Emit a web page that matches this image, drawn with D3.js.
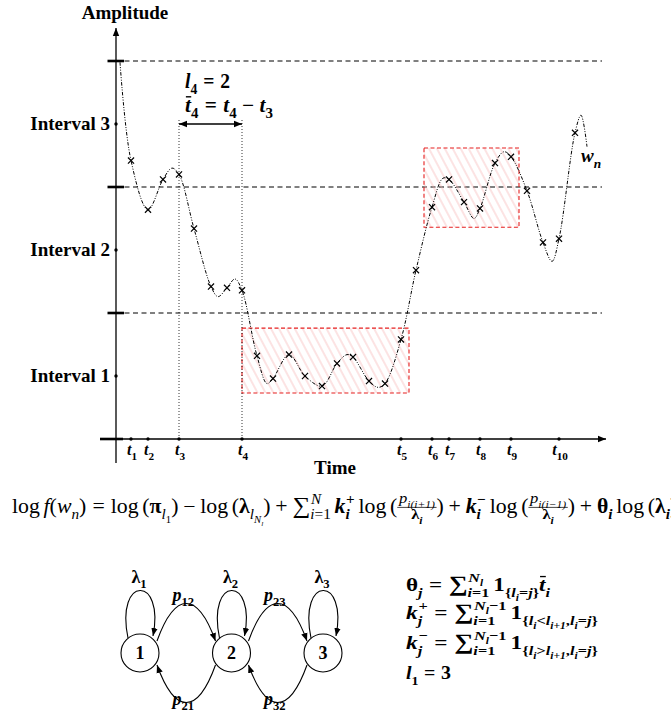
<!DOCTYPE html>
<html>
<head>
<meta charset="utf-8">
<script src="https://cdn.jsdelivr.net/npm/d3@7"></script>
<style>
  body { margin: 0; background: #fff; }
  svg { display: block; }
</style>
</head>
<body>
<svg id="fig"></svg>
<script>
const W = 671, H = 716;
const serif = "'Liberation Serif', 'DejaVu Serif', serif";

// amplitude intervals
const intervalNames = ["Interval 1", "Interval 2", "Interval 3"];
const intervalCenters = [1, 2, 3];
const boundaries = [1.5, 2.5, 3.5];

// observation times t1..t10
const tickNames = ["1", "2", "3", "4", "5", "6", "7", "8", "9", "10"];
const tickTimes = [3.0, 6.4, 12.6, 25.2, 57.0, 63.2, 66.6, 72.8, 79.0, 88.6];

// the continuous trajectory w_n (knots)
const waveT = [0.8, 3.0, 6.4, 9.4, 11.2, 12.6, 15.6, 19.0, 20.4, 22.2, 23.8, 25.2, 28.2, 30.2, 31.4, 34.6,
  37.8, 41.2, 44.2, 46.2, 47.4, 50.6, 52.4, 53.8, 57.0, 60.0, 63.2, 65.4, 66.6, 69.6, 71.6, 72.8, 75.8,
  77.6, 79.0, 82.2, 85.4, 87.2, 88.6, 91.8, 93.0, 94.2];
const waveA = [3.49, 2.71, 2.32, 2.56, 2.65, 2.60, 2.17, 1.71, 1.63, 1.70, 1.77, 1.68, 1.16, 0.94, 0.98, 1.17,
  1.00, 0.92, 1.10, 1.17, 1.15, 0.96, 0.91, 0.94, 1.29, 1.84, 2.34, 2.57, 2.56, 2.38, 2.25, 2.33, 2.69,
  2.78, 2.74, 2.47, 2.06, 1.91, 2.09, 2.93, 3.07, 2.82];

// sampled points (x marks)
const sampleT = [3.0, 6.4, 9.4, 12.6, 15.6, 19.0, 22.2, 25.2, 28.2, 31.4, 34.6, 37.8, 41.2, 44.2, 47.4,
  50.6, 53.8, 57.0, 60.0, 63.2, 66.6, 69.6, 72.8, 75.8, 79.0, 82.2, 85.4, 88.6, 91.8];
const sampleA = [2.71, 2.32, 2.56, 2.60, 2.17, 1.71, 1.70, 1.68, 1.16, 0.98, 1.17, 1.00, 0.92, 1.10, 1.15,
  0.96, 0.94, 1.29, 1.84, 2.34, 2.56, 2.38, 2.33, 2.69, 2.74, 2.47, 2.06, 2.09, 2.93];

// hatched sojourn boxes
const boxT0 = [25.2, 61.6];
const boxT1 = [58.6, 80.6];
const boxA0 = [0.865, 2.18];
const boxA1 = [1.38, 2.81];

// markov chain
const states = ["1", "2", "3"];
const forward = [["12", 0, 1], ["23", 1, 2]];
const backward = [["21", 1, 0], ["32", 2, 1]];

const svg = d3.select("#fig").attr("width", W).attr("height", H);
const defs = svg.append("defs");

defs.append("marker")
    .attr("id", "arr")
    .attr("viewBox", "0 -4 8 8")
    .attr("refX", 8).attr("refY", 0)
    .attr("markerWidth", 8).attr("markerHeight", 8)
    .attr("markerUnits", "userSpaceOnUse")
    .attr("orient", "auto-start-reverse")
  .append("path")
    .attr("d", "M0,-3.2L8,0L0,3.2Z")
    .attr("fill", "#000");

const hatch = defs.append("pattern")
    .attr("id", "hatch")
    .attr("patternUnits", "userSpaceOnUse")
    .attr("width", 7).attr("height", 7)
    .attr("patternTransform", "rotate(-28)");
hatch.append("line")
    .attr("x1", 1).attr("y1", 0).attr("x2", 1).attr("y2", 7)
    .attr("stroke", "#f7b4b4").attr("stroke-width", 0.75);

// ---- little math typesetter (text pieces measured one after another)
const T = (s, k = "n", o = {}) => ({ s, k, ...o });
const SP = e => ({ sp: e });

function put(g, x, y, toks, size) {
  let cx = x;
  toks.forEach(tk => {
    if (tk.sp !== undefined) { cx += tk.sp * size; return; }
    if (tk.frac) {
      const s2 = size * 0.76;
      const gn = g.append("g"), gd = g.append("g");
      const wn = put(gn, 0, 0, tk.frac.num, s2);
      const wd = put(gd, 0, 0, tk.frac.den, s2);
      const w = Math.max(wn, wd) + size * 0.15;
      gn.attr("transform", `translate(${cx + (w - wn) / 2},${y - size * 0.5})`);
      gd.attr("transform", `translate(${cx + (w - wd) / 2},${y + size * 0.32})`);
      g.append("line")
          .attr("x1", cx).attr("x2", cx + w)
          .attr("y1", y - size * 0.28).attr("y2", y - size * 0.28)
          .attr("stroke", "#000").attr("stroke-width", 0.7);
      cx += w;
      return;
    }
    const fs = size * (tk.scale || 1);
    const t = g.append("text")
        .attr("x", cx).attr("y", y + (tk.dy || 0) * size)
        .attr("font-family", serif)
        .attr("font-size", fs)
        .attr("font-weight", tk.k.includes("b") ? "bold" : "normal")
        .attr("font-style", tk.k.includes("i") ? "italic" : "normal")
        .attr("fill", "#000")
        .text(tk.s);
    const w = t.node().getComputedTextLength();
    if (tk.bar) {
      g.append("line")
          .attr("x1", cx + w * 0.15).attr("x2", cx + w * 1.05)
          .attr("y1", y - size * 0.76).attr("y2", y - size * 0.76)
          .attr("stroke", "#000").attr("stroke-width", size * 0.07);
    }
    const ex = cx + w;
    let end = ex;
    if (tk.sub) end = Math.max(end, ex + put(g, ex, y + size * 0.3, tk.sub, size * 0.7));
    if (tk.sup) end = Math.max(end, ex + size * 0.03 + put(g, ex + size * 0.03, y - size * 0.46, tk.sup, size * 0.7));
    cx = end;
  });
  return cx - x;
}

function label(parent, x, y, toks, size, anchor) {
  const g = parent.append("g");
  const w = put(g, 0, 0, toks, size);
  const dx = anchor === "middle" ? -w / 2 : anchor === "end" ? -w : 0;
  g.attr("transform", `translate(${x + dx},${y})`);
  return g;
}

// typeset, then stretch horizontally to the width the picture shows
function fit(parent, x, y, toks, size, width, tail) {
  const g = parent.append("g");
  const w = put(g, 0, 0, toks, size);
  if (tail) put(g, w, 0, tail, size);
  g.attr("transform", `translate(${x},${y}) scale(${width / w},1)`);
  return g;
}

// ---- top chart
const x = d3.scaleLinear().domain([0, 100]).range([116, 616]);
const y = d3.scaleLinear().domain([0.5, 3.5]).range([439, 61]);

const chart = svg.append("g");

chart.selectAll(".border")
  .data(boundaries)
  .enter().append("line")
    .attr("x1", x(0)).attr("x2", x(97.2))
    .attr("y1", d => y(d)).attr("y2", d => y(d))
    .attr("stroke", "#000").attr("stroke-width", 1)
    .attr("stroke-dasharray", "5,3.5");

chart.selectAll(".box")
  .data(boxT0.map((t0, i) => ({ t0, t1: boxT1[i], a0: boxA0[i], a1: boxA1[i] })))
  .enter().append("rect")
    .attr("x", d => x(d.t0)).attr("width", d => x(d.t1) - x(d.t0))
    .attr("y", d => y(d.a1)).attr("height", d => y(d.a0) - y(d.a1))
    .attr("fill", "url(#hatch)")
    .attr("stroke", "#e62020").attr("stroke-width", 1.1)
    .attr("stroke-dasharray", "4,2.5");

[tickTimes[2], tickTimes[3]].forEach(t => {
  chart.append("line")
      .attr("x1", x(t)).attr("x2", x(t))
      .attr("y1", y(0.5)).attr("y2", y(3.04))
      .attr("stroke", "#000").attr("stroke-width", 0.8)
      .attr("stroke-dasharray", "1,2");
});
chart.append("line")
    .attr("x1", x(tickTimes[2])).attr("x2", x(tickTimes[3]))
    .attr("y1", y(3)).attr("y2", y(3))
    .attr("stroke", "#000").attr("stroke-width", 1.3)
    .attr("marker-start", "url(#arr)").attr("marker-end", "url(#arr)");

fit(chart, x(tickTimes[2]) + 6, 88,
  [T("l", "bi", { sub: [T("4", "b")] }), SP(0.3), T("=", "b"), SP(0.3), T("2", "b")], 20, 45);
fit(chart, x(tickTimes[2]) + 6, 112,
  [T("t", "bi", { bar: true, sub: [T("4", "b")] }), SP(0.3), T("=", "b"), SP(0.3),
   T("t", "bi", { sub: [T("4", "b")] }), SP(0.25), T("−", "b"), SP(0.25),
   T("t", "bi", { sub: [T("3", "b")] })], 20, 88);

// trajectory
const wave = d3.line()
    .x(d => x(d[0])).y(d => y(d[1]))
    .curve(d3.curveCatmullRom.alpha(0.5));
chart.append("path")
    .datum(waveT.map((t, i) => [t, waveA[i]]))
    .attr("d", wave)
    .attr("fill", "none")
    .attr("stroke", "#000").attr("stroke-width", 1)
    .attr("stroke-dasharray", "3.5,1.5,1,1.5,1,1.5");

chart.selectAll(".sample")
  .data(sampleT.map((t, i) => [t, sampleA[i]]))
  .enter().append("path")
    .attr("transform", d => `translate(${x(d[0])},${y(d[1])})`)
    .attr("d", d3.symbol(d3.symbolTimes, 26))
    .attr("fill", "none")
    .attr("stroke", "#000").attr("stroke-width", 1.2);

label(chart, 581, 162, [T("w", "bi", { sub: [T("n", "bi")] })], 19);

// axes
chart.append("line")
    .attr("x1", x(0)).attr("x2", x(0))
    .attr("y1", y(0.31)).attr("y2", 28)
    .attr("stroke", "#000").attr("stroke-width", 1.3)
    .attr("marker-end", "url(#arr)");
chart.append("line")
    .attr("x1", x(-3.2)).attr("x2", 606)
    .attr("y1", y(0.5)).attr("y2", y(0.5))
    .attr("stroke", "#000").attr("stroke-width", 1.3)
    .attr("marker-end", "url(#arr)");
chart.append("line")
    .attr("x1", x(-3.2)).attr("x2", x(1.4))
    .attr("y1", y(0.5)).attr("y2", y(0.5))
    .attr("stroke", "#000").attr("stroke-width", 2.6);

chart.selectAll(".btick")
  .data(boundaries)
  .enter().append("line")
    .attr("x1", x(-1.7)).attr("x2", x(1.6))
    .attr("y1", d => y(d)).attr("y2", d => y(d))
    .attr("stroke", "#000").attr("stroke-width", 2.6);

chart.selectAll(".idot")
  .data(intervalCenters)
  .enter().append("circle")
    .attr("cx", x(0)).attr("cy", d => y(d)).attr("r", 1.7)
    .attr("fill", "#000");

chart.selectAll(".ilabel")
  .data(intervalCenters)
  .enter().append("text")
    .attr("x", x(-1.2)).attr("y", d => y(d) + 6)
    .attr("text-anchor", "end")
    .attr("font-family", serif).attr("font-weight", "bold").attr("font-size", 19)
    .text((d, i) => intervalNames[i]);

chart.selectAll(".tdot")
  .data(tickTimes)
  .enter().append("circle")
    .attr("cx", d => x(d)).attr("cy", y(0.5)).attr("r", 1.7)
    .attr("fill", "#000");

tickTimes.forEach((t, i) => {
  label(chart, x(t) + 1, 455, [T("t", "bi", { sub: [T(tickNames[i], "b")] })], 16, "middle");
});

chart.append("text")
    .attr("x", 125).attr("y", 19)
    .attr("text-anchor", "middle")
    .attr("font-family", serif).attr("font-weight", "bold").attr("font-size", 19)
    .text("Amplitude");
chart.append("text")
    .attr("x", 335).attr("y", 474)
    .attr("text-anchor", "middle")
    .attr("font-family", serif).attr("font-weight", "bold").attr("font-size", 19)
    .text("Time");

// ---- likelihood formula
const frac = (num, den) => ({ frac: { num, den } });
const lam_i = T("λ", "b", { sub: [T("i", "bi")] });
const formula = [
  T("log"), SP(0.17), T("f", "i"), T("("), T("w", "i", { sub: [T("n", "i")] }), T(")"), SP(0.28), T("="), SP(0.28),
  T("log"), SP(0.17), T("("), T("π", "b", { sub: [T("l", "i", { sub: [T("1")] })] }), T(")"), SP(0.22), T("−"), SP(0.22),
  T("log"), SP(0.17), T("("), T("λ", "b", { sub: [T("l", "i", { sub: [T("N", "i", { sub: [T("l", "i")] })] })] }), T(")"),
  SP(0.22), T("+"), SP(0.22),
  T("∑", "n", { scale: 1.15, sub: [T("i", "i"), T("="), T("1")], sup: [T("N", "i")] }), SP(0.17),
  T("k", "bi", { sub: [T("i", "bi")], sup: [T("+", "b")] }), SP(0.17),
  T("log"), SP(0.17), T("("), frac([T("p", "i", { sub: [T("i(i+1)", "i")] })], [lam_i]), T(")"), SP(0.22), T("+"), SP(0.22),
  T("k", "bi", { sub: [T("i", "bi")], sup: [T("−", "b")] }), SP(0.17),
  T("log"), SP(0.17), T("("), frac([T("p", "i", { sub: [T("i(i−1)", "i")] })], [lam_i]), T(")"), SP(0.22), T("+"), SP(0.22),
  T("θ", "b", { sub: [T("i", "bi")] }), SP(0.17), T("log"), SP(0.17), T("("), lam_i
];
fit(svg, 12, 513, formula, 20, 658, [T(")")]);

// ---- markov chain diagram
const sx = d3.scalePoint().domain(states).range([140, 323]);
const cy = 653, r = 19;
const diag = svg.append("g");

states.forEach(s => {
  const cx = sx(s);
  diag.append("path")
      .attr("d", `M${cx - 12},${cy - 15}C${cx - 25},${cy - 78} ${cx + 25},${cy - 78} ${cx + 13},${cy - 17}`)
      .attr("fill", "none").attr("stroke", "#000").attr("stroke-width", 1.1)
      .attr("marker-end", "url(#arr)");
  label(diag, cx - 1, 583, [T("λ", "b", { sub: [T(s, "b")] })], 18, "middle");
});

forward.forEach(([lab, a, b]) => {
  const x0 = sx(states[a]) + 17, x1 = sx(states[b]) - 16;
  diag.append("path")
      .attr("d", `M${x0},${cy - 12}C${x0 + 18},${cy - 62} ${x1 - 18},${cy - 62} ${x1},${cy - 12}`)
      .attr("fill", "none").attr("stroke", "#000").attr("stroke-width", 1.1)
      .attr("marker-end", "url(#arr)");
  label(diag, (x0 + x1) / 2 - 3, 601, [T("p", "bi", { sub: [T(lab, "b")] })], 18, "middle");
});

backward.forEach(([lab, a, b]) => {
  const x0 = sx(states[a]) - 16, x1 = sx(states[b]) + 17;
  diag.append("path")
      .attr("d", `M${x0},${cy + 12}C${x0 - 18},${cy + 62} ${x1 + 18},${cy + 62} ${x1},${cy + 12}`)
      .attr("fill", "none").attr("stroke", "#000").attr("stroke-width", 1.1)
      .attr("marker-end", "url(#arr)");
  label(diag, (x0 + x1) / 2 - 3, 705, [T("p", "bi", { sub: [T(lab, "b")] })], 18, "middle");
});

diag.selectAll(".state")
  .data(states)
  .enter().append("circle")
    .attr("cx", d => sx(d)).attr("cy", cy).attr("r", r)
    .attr("fill", "#fff").attr("stroke", "#000").attr("stroke-width", 1.1);
diag.selectAll(".slabel")
  .data(states)
  .enter().append("text")
    .attr("x", d => sx(d)).attr("y", cy + 6)
    .attr("text-anchor", "middle")
    .attr("font-family", serif).attr("font-weight", "bold").attr("font-size", 18)
    .text(d => d);

// ---- summary statistics
const sumN = sup => T("∑", "b", { scale: 1.15, sub: [T("i", "bi"), T("=", "b"), T("1", "b")], sup });
const li = T("l", "bi", { sub: [T("i", "bi")] });
const lip = T("l", "bi", { sub: [T("i+1", "bi")] });
const Nl = T("N", "bi", { sub: [T("l", "bi")] });
const eqs = [
  [T("θ", "b", { sub: [T("j", "bi")] }), SP(0.28), T("=", "b"), SP(0.28), sumN([Nl]), SP(0.17),
   T("1", "b", { sub: [T("{", "b"), li, T("=", "b"), T("j", "bi"), T("}", "b")] }),
   T("t", "bi", { bar: true, sub: [T("i", "bi")] })],
  [T("k", "bi", { sub: [T("j", "bi")], sup: [T("+", "b")] }), SP(0.28), T("=", "b"), SP(0.28),
   sumN([Nl, T("−1", "b")]), SP(0.17),
   T("1", "b", { sub: [T("{", "b"), li, T("<", "b"), lip, T(",", "b"), li, T("=", "b"), T("j", "bi"), T("}", "b")] })],
  [T("k", "bi", { sub: [T("j", "bi")], sup: [T("−", "b")] }), SP(0.28), T("=", "b"), SP(0.28),
   sumN([Nl, T("−1", "b")]), SP(0.17),
   T("1", "b", { sub: [T("{", "b"), li, T(">", "b"), lip, T(",", "b"), li, T("=", "b"), T("j", "bi"), T("}", "b")] })],
  [T("l", "bi", { sub: [T("1", "b")] }), SP(0.28), T("=", "b"), SP(0.28), T("3", "b")]
];
const eqY = [591, 619, 649, 679];
const eqW = [144, 192, 192, 45];
eqs.forEach((toks, i) => fit(svg, 406, eqY[i], toks, 19, eqW[i]));
</script>
</body>
</html>
